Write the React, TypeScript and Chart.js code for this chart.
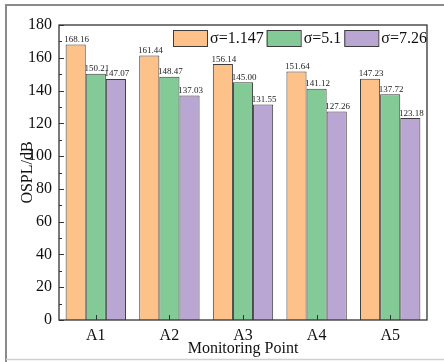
import React, { useEffect, useRef } from "react";
import { Chart, registerables } from "chart.js";

Chart.register(...registerables);

// Overall sound pressure level at each monitoring point, per roughness σ
const categories = ["A1", "A2", "A3", "A4", "A5"];
const seriesLabels = ["σ=1.147", "σ=5.1", "σ=7.26"];
const sigma1147 = [168.16, 161.44, 156.14, 151.64, 147.23];
const sigma51 = [150.21, 148.47, 145.0, 141.12, 137.72];
const sigma726 = [147.07, 137.03, 131.55, 127.26, 123.18];
const yMin = 0;
const yMax = 180;
const yStep = 20;

const fills = ["#FDC28A", "#84CA97", "#B9A6D2"];
const SERIF = "'Liberation Serif', 'Times New Roman', serif";
const EDGE = "#3c3c3c";

// White page with a thin frame around the figure
const framePlugin = {
  id: "frame",
  beforeDraw(chart: any) {
    const { ctx, width, height } = chart;
    ctx.save();
    ctx.fillStyle = "#ffffff";
    ctx.fillRect(0, 0, width, height);
    ctx.strokeStyle = "#8a8a8a";
    ctx.lineWidth = 2;
    ctx.beginPath();
    ctx.moveTo(6, height);
    ctx.lineTo(6, 5);
    ctx.lineTo(width, 5);
    ctx.stroke();
    ctx.strokeStyle = "#d0d0d0";
    ctx.lineWidth = 1.5;
    ctx.beginPath();
    ctx.moveTo(6, 359.5);
    ctx.lineTo(width, 359.5);
    ctx.stroke();
    ctx.restore();
  },
};

// Closed box around the plot area with inward ticks
const boxPlugin = {
  id: "box",
  afterDatasetsDraw(chart: any) {
    const { ctx, chartArea } = chart;
    const { left, right, top, bottom } = chartArea;
    const y = chart.scales.y;
    const x = chart.scales.x;
    ctx.save();
    ctx.strokeStyle = "#333333";
    ctx.lineWidth = 1.3;
    ctx.strokeRect(left, top, right - left, bottom - top);
    ctx.lineWidth = 1;
    ctx.beginPath();
    for (let v = yMin; v <= yMax; v += yStep / 2) {
      const py = Math.round(y.getPixelForValue(v)) + 0.5;
      const len = v % yStep === 0 ? 5 : 3;
      ctx.moveTo(left, py);
      ctx.lineTo(left + len, py);
    }
    categories.forEach((_, i) => {
      const px = Math.round(x.getPixelForValue(i)) + 0.5;
      ctx.moveTo(px, bottom);
      ctx.lineTo(px, bottom - 5);
    });
    ctx.stroke();
    ctx.restore();
  },
};

// Value labels above each bar
const valueLabelPlugin = {
  id: "valueLabels",
  afterDatasetsDraw(chart: any) {
    const { ctx } = chart;
    ctx.save();
    ctx.font = `9px ${SERIF}`;
    ctx.fillStyle = "#222222";
    ctx.textAlign = "center";
    ctx.textBaseline = "alphabetic";
    chart.data.datasets.forEach((ds: any, di: number) => {
      const meta = chart.getDatasetMeta(di);
      meta.data.forEach((bar: any, i: number) => {
        const v = ds.data[i] as number;
        ctx.fillText(v.toFixed(2), bar.x + 1, bar.y - 2.5);
      });
    });
    ctx.restore();
  },
};

// Single-row legend inside the top of the plot
const legendPlugin = {
  id: "insideLegend",
  afterDraw(chart: any) {
    const { ctx } = chart;
    ctx.save();
    ctx.font = `16px ${SERIF}`;
    ctx.textBaseline = "middle";
    ctx.textAlign = "left";
    let x = 173;
    const boxTop = 30;
    const boxW = 34;
    const boxH = 16;
    chart.data.datasets.forEach((ds: any) => {
      ctx.fillStyle = ds.backgroundColor;
      ctx.fillRect(x, boxTop, boxW, boxH);
      ctx.strokeStyle = EDGE;
      ctx.lineWidth = 1;
      ctx.strokeRect(x + 0.5, boxTop + 0.5, boxW, boxH);
      x += boxW + 3;
      ctx.fillStyle = "#111111";
      ctx.fillText(ds.label, x, boxTop + boxH / 2 + 1);
      x += ctx.measureText(ds.label).width + 3;
    });
    ctx.restore();
  },
};

export default function App() {
  const canvasRef = useRef<HTMLCanvasElement | null>(null);

  useEffect(() => {
    document.body.style.margin = "0";
    const canvas = canvasRef.current;
    if (!canvas) return;
    const values = [sigma1147, sigma51, sigma726];
    const chart = new Chart(canvas, {
      type: "bar",
      data: {
        labels: categories,
        datasets: seriesLabels.map((label, i) => ({
          label,
          data: values[i],
          backgroundColor: fills[i],
          borderColor: EDGE,
          borderWidth: 1,
          categoryPercentage: 0.82,
          barPercentage: 1,
        })),
      },
      options: {
        responsive: false,
        animation: false,
        devicePixelRatio: 1,
        layout: { padding: { left: 0, top: 25, right: 17, bottom: 0 } },
        plugins: {
          legend: { display: false },
          tooltip: { enabled: false },
          title: { display: false },
        },
        scales: {
          x: {
            grid: { display: false, drawTicks: false },
            border: { display: false },
            ticks: {
              color: "#111111",
              font: { family: SERIF, size: 16 },
              padding: 6,
            },
            title: {
              display: true,
              text: "Monitoring Point",
              color: "#111111",
              font: { family: SERIF, size: 16 },
              padding: { top: 0, bottom: 4 },
            },
            afterFit: (s: any) => {
              s.height = 42;
            },
          },
          y: {
            min: yMin,
            max: yMax,
            grid: { display: false, drawTicks: false },
            border: { display: false },
            ticks: {
              stepSize: yStep,
              color: "#111111",
              font: { family: SERIF, size: 16 },
              padding: 7,
            },
            title: {
              display: true,
              text: "OSPL/dB",
              color: "#111111",
              font: { family: SERIF, size: 16 },
              padding: { top: 18, bottom: 0 },
            },
            afterFit: (s: any) => {
              s.width = 59;
            },
          },
        },
      },
      plugins: [framePlugin, boxPlugin, valueLabelPlugin, legendPlugin],
    });
    return () => chart.destroy();
  }, []);

  return (
    <canvas
      ref={canvasRef}
      width={444}
      height={362}
      style={{ display: "block", width: "444px", height: "362px" }}
    />
  );
}
